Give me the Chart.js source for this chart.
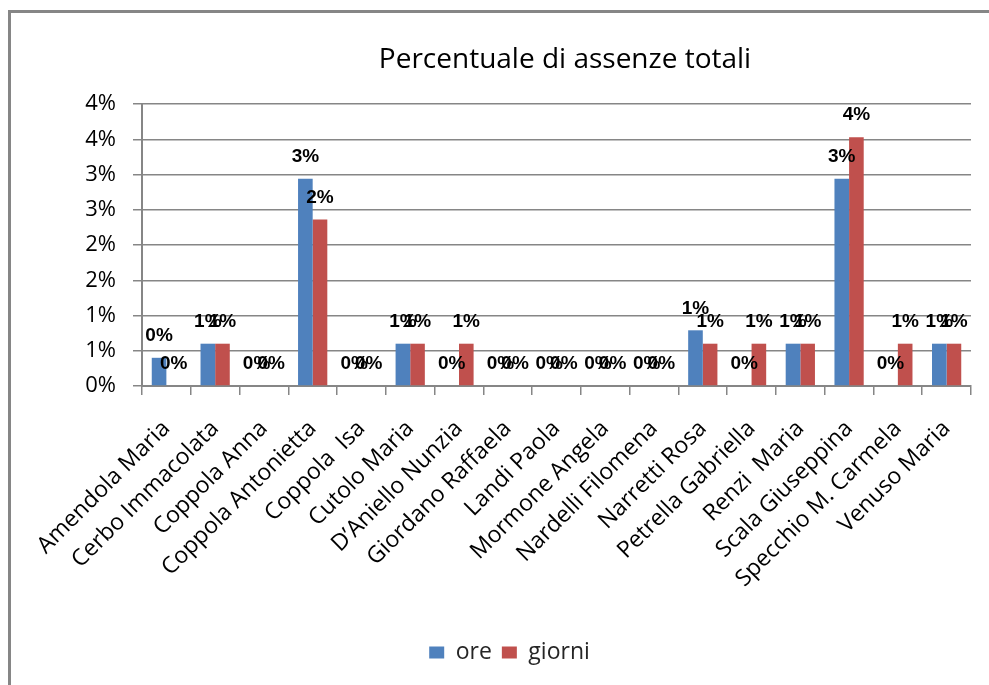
<!DOCTYPE html>
<html>
<head>
<meta charset="utf-8">
<script src="https://cdn.jsdelivr.net/npm/chart.js@4/dist/chart.umd.min.js"></script>
<style>
    body { margin: 0; background: #fff; overflow: hidden; }
    #frame {
        position: absolute; left: 8px; top: 10px;
        width: 2000px; height: 2000px;
        border: 3px solid #868686;
    }
    #chart { position: absolute; left: 0; top: 0; }
</style>
</head>
<body>
<div id="frame"></div>
<canvas id="chart" width="989" height="685"></canvas>
<script>
const titleText = 'Percentuale di assenze totali';
const categories = [
    'Amendola Maria', 'Cerbo Immacolata', 'Coppola Anna', 'Coppola Antonietta',
    'Coppola  Isa', 'Cutolo Maria', 'D’Aniello Nunzia', 'Giordano Raffaela',
    'Landi Paola', 'Mormone Angela', 'Nardelli Filomena', 'Narretti Rosa',
    'Petrella Gabriella', 'Renzi  Maria', 'Scala Giuseppina', 'Specchio M. Carmela',
    'Venuso Maria'
];
// valori in percentuale
const ore =    [0.40, 0.60, 0, 2.94, 0, 0.60, 0,    0, 0, 0, 0, 0.79, 0,    0.60, 2.94, 0,    0.60];
const giorni = [0,    0.60, 0, 2.36, 0, 0.60, 0.60, 0, 0, 0, 0, 0.60, 0.60, 0.60, 3.53, 0.60, 0.60];
const tickLabels = ['0%', '1%', '1%', '2%', '2%', '3%', '3%', '4%', '4%'];

const FONT = 'Open Sans';
const GRID = '#868686';

// titolo centrato come nell'originale (un po' a destra del centro del canvas)
const chartTitle = {
    id: 'chartTitle',
    afterDraw(chart) {
        const ctx = chart.ctx;
        ctx.save();
        ctx.font = '28px "' + FONT + '"';
        ctx.fillStyle = '#000';
        ctx.textAlign = 'center';
        ctx.textBaseline = 'middle';
        ctx.fillText(titleText, 565, 60);
        ctx.restore();
    }
};

const barLabels = {
    id: 'barLabels',
    afterDatasetsDraw(chart) {
        const ctx = chart.ctx;
        ctx.save();
        ctx.font = 'bold 19px "Liberation Sans"';
        ctx.fillStyle = '#000';
        ctx.textAlign = 'center';
        ctx.textBaseline = 'middle';
        chart.data.datasets.forEach((ds, i) => {
            chart.getDatasetMeta(i).data.forEach((bar, j) => {
                ctx.fillText(Math.round(ds.data[j]) + '%', bar.x, bar.y - 22);
            });
        });
        ctx.restore();
    }
};

new Chart(document.getElementById('chart'), {
    type: 'bar',
    data: {
        labels: categories,
        datasets: [
            { label: 'ore', data: ore, backgroundColor: '#4F81BD' },
            { label: 'giorni', data: giorni, backgroundColor: '#C0504D' }
        ]
    },
    options: {
        responsive: false,
        animation: false,
        devicePixelRatio: 1,
        categoryPercentage: 0.6,
        barPercentage: 1.0,
        layout: { padding: { left: 48, right: 18, top: 104, bottom: 11 } },
        plugins: {
            tooltip: { enabled: false },
            title: { display: false },
            legend: {
                position: 'bottom',
                labels: {
                    color: '#262626',
                    font: { family: FONT, size: 23 },
                    boxWidth: 15,
                    boxHeight: 12,
                    padding: 10
                }
            }
        },
        scales: {
            x: {
                grid: { drawOnChartArea: false, color: GRID, lineWidth: 1.5, tickLength: 9, offset: true },
                border: { color: GRID, width: 2 },
                ticks: {
                    color: '#000',
                    font: { family: FONT, size: 23 },
                    minRotation: 45,
                    maxRotation: 45,
                    autoSkip: false,
                    padding: 20
                },
                afterFit: s => { s.height = 245; }
            },
            y: {
                min: 0,
                max: 4,
                grid: { color: GRID, lineWidth: 1.5, tickLength: 9 },
                border: { color: GRID, width: 2 },
                ticks: {
                    stepSize: 0.5,
                    color: '#000',
                    font: { family: FONT, size: 22 },
                    padding: 17,
                    callback: (v) => tickLabels[Math.round(v / 0.5)]
                },
                afterFit: s => { s.width = 94; }
            }
        }
    },
    plugins: [barLabels, chartTitle]
});
</script>
</body>
</html>
